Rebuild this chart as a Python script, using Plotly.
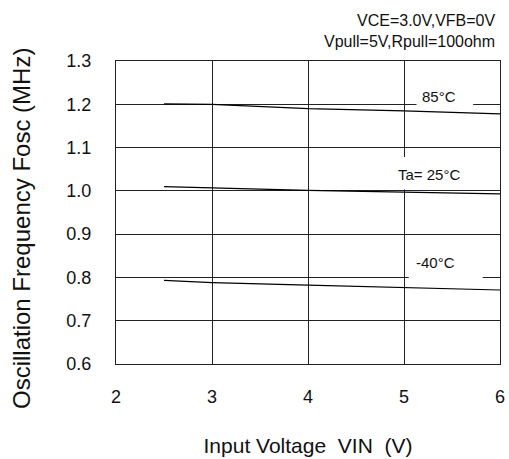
import plotly.graph_objects as go

# ---- data ----
vin = [2.5, 3, 4, 5, 6]
fosc_85 = [1.201, 1.200, 1.190, 1.185, 1.178]
fosc_25 = [1.010, 1.007, 1.001, 0.997, 0.993]
fosc_m40 = [0.793, 0.788, 0.782, 0.776, 0.771]

x_ticks = [2, 3, 4, 5, 6]
y_ticks = [0.6, 0.7, 0.8, 0.9, 1.0, 1.1, 1.2, 1.3]
y_ticktext = ["0.6", "0.7", "0.8", "0.9", "1.0", "1.1", "1.2", "1.3"]

FONT = "Liberation Sans, Arial, sans-serif"
GRID = "#222222"

fig = go.Figure()
for ys in (fosc_85, fosc_25, fosc_m40):
    fig.add_trace(go.Scatter(x=vin, y=ys, mode="lines",
                             line=dict(color="black", width=1.2),
                             showlegend=False, hoverinfo="skip"))

# white boxes breaking gridlines behind the curve labels
for x0, x1, y0, y1 in [(5.13, 5.72, 1.194, 1.238),
                       (4.85, 5.6, 1.003, 1.078),
                       (5.05, 5.82, 0.785, 0.864)]:
    fig.add_shape(type="rect", xref="x", yref="y", x0=x0, x1=x1, y0=y0, y1=y1,
                  fillcolor="white", line=dict(width=0), layer="between")

fig.add_annotation(x=5.36, y=1.219, xref="x", yref="y", text="85°C",
                   showarrow=False, font=dict(size=15, color="#111"))
fig.add_annotation(x=5.26, y=1.037, xref="x", yref="y", text="Ta= 25°C",
                   showarrow=False, font=dict(size=15, color="#111"))
fig.add_annotation(x=5.33, y=0.835, xref="x", yref="y", text="-40°C",
                   showarrow=False, font=dict(size=15, color="#111"))

# top condition notes (paper coords relative to plot area)
L, R, T, B = 116, 9, 61, 95
W, H = 509, 459
pw, ph = W - L - R, H - T - B


def px(xp):
    return (xp - L) / pw


def py(yp):
    return (H - B - yp) / ph


fig.add_annotation(x=px(497), y=py(21), xref="paper", yref="paper", text="VCE=3.0V,VFB=0V",
                   showarrow=False, xanchor="right", yanchor="middle",
                   font=dict(size=16, color="#111"))
fig.add_annotation(x=px(497), y=py(41), xref="paper", yref="paper", text="Vpull=5V,Rpull=100ohm",
                   showarrow=False, xanchor="right", yanchor="middle",
                   font=dict(size=16, color="#111"))
# y-axis title (placed as rotated text, slightly below the plot centre as in the reference)
fig.add_annotation(x=px(21), y=py(229), xref="paper", yref="paper",
                   text="Oscillation Frequency Fosc (MHz)", textangle=-90,
                   showarrow=False, xanchor="center", yanchor="middle",
                   font=dict(size=24, color="#111"))

fig.update_layout(
    width=W, height=H,
    margin=dict(l=L, r=R, t=T, b=B, autoexpand=False),
    paper_bgcolor="white", plot_bgcolor="white",
    font=dict(family=FONT, color="#111"),
    xaxis=dict(range=[2, 6], tickvals=x_ticks, showgrid=True, gridcolor=GRID, gridwidth=1,
               showline=True, linecolor=GRID, linewidth=1, mirror=True, zeroline=False,
               ticks="", tickfont=dict(size=18), ticklabelstandoff=16,
               title=dict(text="Input Voltage\u00a0\u00a0VIN\u00a0\u00a0(V)", font=dict(size=21), standoff=32)),
    yaxis=dict(range=[0.6, 1.3], tickvals=y_ticks, ticktext=y_ticktext, showgrid=True,
               gridcolor=GRID, gridwidth=1, showline=True, linecolor=GRID, linewidth=1,
               mirror=True, zeroline=False, ticks="", tickfont=dict(size=18),
               ticklabelstandoff=20),
)

fig.write_html("out.html", config={"displayModeBar": False},
               post_script="document.body.style.margin='0';document.body.style.overflow='hidden';")
